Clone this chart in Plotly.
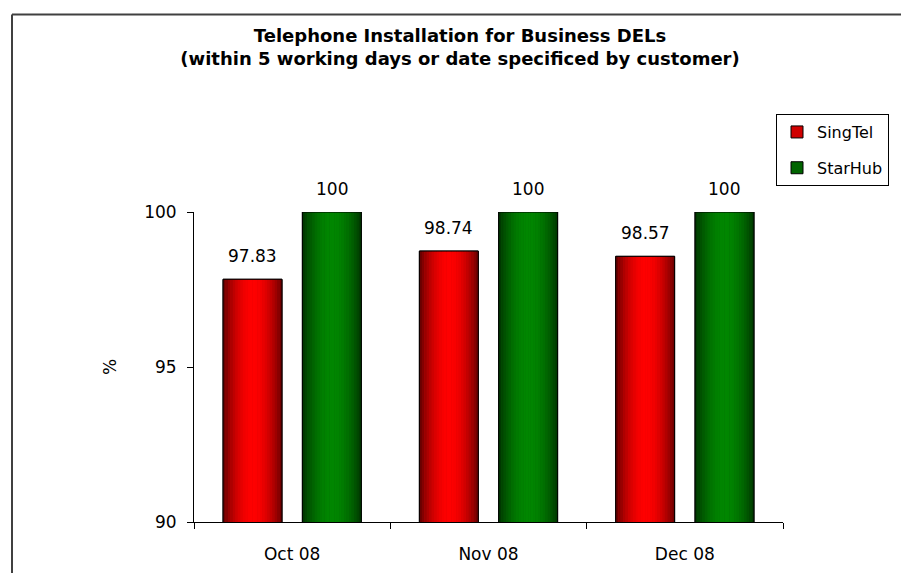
import plotly.graph_objects as go
import math

categories = ["Oct 08", "Nov 08", "Dec 08"]
singtel = [97.83, 98.74, 98.57]
starhub = [100, 100, 100]
singtel_labels = ["97.83", "98.74", "98.57"]
starhub_labels = ["100", "100", "100"]
y_ticks = [90, 95, 100]

FONT = "DejaVu Sans, Liberation Sans, Arial, sans-serif"
W = 0.30
series = [
    dict(name="SingTel", y=singtel, labels=singtel_labels, offset=-0.352,
         rgb=(255, 0, 0), legend_color="#D00000"),
    dict(name="StarHub", y=starhub, labels=starhub_labels, offset=0.052,
         rgb=(0, 135, 0), legend_color="#006400"),
]

N = 24
def profile(t):
    return 0.28 + 0.72 * (math.sin(math.pi * min(1.0, t * 0.95 + 0.02)) ** 0.8)

fig = go.Figure()
x_idx = list(range(len(categories)))
for s in series:
    fig.add_trace(go.Bar(
        x=categories, y=s["y"], name=s["name"], legendgroup=s["name"],
        offset=s["offset"], width=W, marker=dict(color=s["legend_color"], line=dict(color="black", width=1)),
        hoverinfo="skip"))
    for i in range(N):
        t = (i + 0.5) / N
        f = profile(t)
        r, g, b = [int(c * f) for c in s["rgb"]]
        fig.add_trace(go.Bar(
            x=categories, y=s["y"], showlegend=False, legendgroup=s["name"],
            offset=s["offset"] + W * i / N, width=W / N * 1.08,
            marker=dict(color=f"rgb({r},{g},{b})", line=dict(width=0)),
            hoverinfo="skip"))
    fig.add_trace(go.Bar(
        x=categories, y=s["y"], showlegend=False, legendgroup=s["name"],
        offset=s["offset"], width=W,
        marker=dict(color="rgba(0,0,0,0)", line=dict(color="black", width=1)),
        hoverinfo="skip"))
    for xi, v, lab in zip(x_idx, s["y"], s["labels"]):
        fig.add_annotation(x=xi + s["offset"] + W / 2, y=v, xref="x", yref="y",
                           text=lab, showarrow=False, yanchor="middle", yshift=23,
                           font=dict(family=FONT, size=17, color="black"))

fig.add_annotation(x=-0.1426, y=0.5, xref="paper", yref="paper", text="%",
                   textangle=-90, showarrow=False, xanchor="center", yanchor="middle",
                   font=dict(family=FONT, size=17, color="black"))

fig.update_layout(
    width=901, height=573, autosize=False,
    margin=dict(l=194, r=118, t=212, b=51),
    paper_bgcolor="white", plot_bgcolor="white",
    barmode="overlay",
    title=dict(text="<b>Telephone Installation for Business DELs<br>(within 5 working days or date specificed by customer)</b>",
               x=0.4516, xref="paper", xanchor="center", y=1 - 41.5 / 573, yanchor="middle",
               font=dict(family=FONT, size=18, color="black")),
    showlegend=True,
    legend=dict(x=(889 - 194) / 589, y=1.316, xanchor="right", yanchor="top", xref="paper", yref="paper",
                bordercolor="black", borderwidth=1, bgcolor="white",
                traceorder="grouped", tracegroupgap=12,
                font=dict(family=FONT, size=16, color="black"),
                itemwidth=30),
    xaxis=dict(type="category", showline=True, linecolor="black", linewidth=1,
               ticks="outside", tickson="boundaries", ticklen=6, tickcolor="black",
               showgrid=False, ticklabelstandoff=17, automargin=False,
               tickfont=dict(family=FONT, size=17, color="black")),
    yaxis=dict(range=[90, 100], tickvals=y_ticks, showline=True, linecolor="black", linewidth=1,
               ticks="outside", ticklen=6, tickcolor="black", showgrid=False, zeroline=False,
               ticklabelstandoff=7, automargin=False,
               tickfont=dict(family=FONT, size=17, color="black")),
    shapes=[
        dict(type="line", xref="paper", yref="paper", x0=(12 - 194) / 589, x1=(905 - 194) / 589,
             y0=1 + (212 - 14.5) / 310, y1=1 + (212 - 14.5) / 310, line=dict(color="#404040", width=2)),
        dict(type="line", xref="paper", yref="paper", x0=(12 - 194) / 589, x1=(12 - 194) / 589,
             y0=1 + (212 - 14.5) / 310, y1=-(580 - 522) / 310, line=dict(color="#404040", width=2)),
    ],
)

fig.write_html("out.html", config={"displayModeBar": False},
               post_script="document.body.style.margin='0';document.body.style.overflow='hidden';")
